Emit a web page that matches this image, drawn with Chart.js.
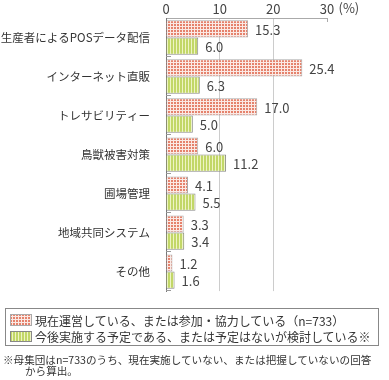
<!DOCTYPE html>
<html><head><meta charset="utf-8">
<script src="https://cdn.jsdelivr.net/npm/chart.js@4/dist/chart.umd.min.js"></script>
<style>
body{margin:0;background:#fff;font-family:"Noto Sans CJK JP",sans-serif;color:#333;}
#wrap{position:relative;width:389px;height:380px;}
#c{position:absolute;left:0;top:0;}
#legend{position:absolute;left:5px;top:308px;width:374px;height:38px;border:1px solid #888;box-sizing:border-box;}
.row{position:absolute;left:4px;height:14px;display:flex;align-items:center;font-size:12px;white-space:nowrap;color:#333;}
.row canvas{margin-right:3px;}
#note{position:absolute;left:3px;top:354px;font-size:10.6px;line-height:11px;color:#333;white-space:nowrap;}
</style></head>
<body><div id="wrap">
<canvas id="c" width="389" height="306"></canvas>
<div id="legend">
 <div class="row" style="top:4px"><canvas id="s1" width="22" height="12"></canvas><span id="l1"></span></div>
 <div class="row" style="top:20px"><canvas id="s2" width="22" height="11"></canvas><span id="l2"></span></div>
</div>
<div id="note"><div>※母集団はn=733のうち、現在実施していない、または把握していないの回答</div><div style="padding-left:22px">から算出。</div></div>
</div>
<script>
const categories = ["生産者によるPOSデータ配信","インターネット直販","トレサビリティー","鳥獣被害対策","圃場管理","地域共同システム","その他"];
const currentValues = [15.3, 25.4, 17.0, 6.0, 4.1, 3.3, 1.2];
const plannedValues = [6.0, 6.3, 5.0, 11.2, 5.5, 3.4, 1.6];
const seriesNames = ["現在運営している、または参加・協力している（n=733）","今後実施する予定である、または予定はないが検討している※"];
const xTicks = [0, 10, 20, 30];

function redPattern(ctx){
  const p=document.createElement('canvas');p.width=3;p.height=3;
  const g=p.getContext('2d');g.fillStyle='#fbe9e4';g.fillRect(0,0,3,3);
  g.fillStyle='#e5826c';g.fillRect(0,0,2,2);
  return ctx.createPattern(p,'repeat');
}
function greenPattern(ctx){
  const p=document.createElement('canvas');p.width=3;p.height=3;
  const g=p.getContext('2d');g.fillStyle='#eef4c4';g.fillRect(0,0,3,3);
  g.fillStyle='#c2d767';g.fillRect(0,0,2,3);
  return ctx.createPattern(p,'repeat');
}
const ctx=document.getElementById('c').getContext('2d');
const FONT='"Noto Sans CJK JP", sans-serif';

const decor={
  id:'decor',
  afterDatasetsDraw(chart){
    const c=chart.ctx, a=chart.chartArea, xs=chart.scales.x;
    c.save();
    c.font='13px '+FONT; c.fillStyle='#444'; c.textBaseline='middle'; c.textAlign='left';
    chart.data.datasets.forEach((ds,di)=>{
      chart.getDatasetMeta(di).data.forEach((el,i)=>{
        c.fillText(ds.data[i].toFixed(1), el.x+7, el.y+1);
      });
    });
    c.strokeStyle='#999'; c.lineWidth=1;
    const step=(a.bottom-a.top)/categories.length;
    for(let i=1;i<=categories.length;i++){
      const y=Math.round(a.top+step*i)-0.5;
      c.beginPath(); c.moveTo(a.left,y); c.lineTo(a.left+5,y); c.stroke();
    }
    const x30=Math.round(xs.getPixelForValue(30))+0.5;
    c.strokeStyle='#aaa';
    c.beginPath(); c.moveTo(x30,a.top); c.lineTo(x30,a.top+4); c.stroke();
    c.font='13px '+FONT; c.fillStyle='#444'; c.textBaseline='middle'; c.textAlign='left';
    c.fillText('(%)', x30+11, 8);
    c.restore();
  }
};

new Chart(ctx,{
  type:'bar',
  data:{labels:categories,datasets:[
    {label:seriesNames[0],data:currentValues,backgroundColor:redPattern(ctx),borderColor:'#aaa',borderWidth:1,categoryPercentage:0.88,barPercentage:1},
    {label:seriesNames[1],data:plannedValues,backgroundColor:greenPattern(ctx),borderColor:'#888',borderWidth:1,categoryPercentage:0.88,barPercentage:1}
  ]},
  options:{
    indexAxis:'y',responsive:false,animation:false,
    layout:{padding:{left:0,right:62,top:0,bottom:3}},
    plugins:{legend:{display:false},tooltip:{enabled:false}},
    scales:{
      x:{position:'top',min:0,max:30,
        afterBuildTicks(s){s.ticks=xTicks.map(v=>({value:v}));},
        afterFit(s){s.height=18;},
        ticks:{font:{size:13,family:FONT},color:'#444',padding:1},
        grid:{drawTicks:false,color:c=>(c.tick&&(c.tick.value===10||c.tick.value===20))?'#ccc':'transparent'},
        border:{color:'#aaa'}
      },
      y:{
        afterFit(s){s.width=166;},
        ticks:{font:{size:11.5,family:FONT},color:'#333',padding:8},
        grid:{display:false},
        border:{color:'#777'}
      }
    }
  },
  plugins:[decor]
});

const s1=document.getElementById('s1').getContext('2d');
s1.fillStyle=redPattern(s1);s1.fillRect(0,0,22,12);s1.strokeStyle='#aaa';s1.strokeRect(0.5,0.5,21,11);
const s2=document.getElementById('s2').getContext('2d');
s2.fillStyle=greenPattern(s2);s2.fillRect(0,0,22,11);s2.strokeStyle='#888';s2.strokeRect(0.5,0.5,21,10);
document.getElementById('l1').textContent=seriesNames[0];
document.getElementById('l2').textContent=seriesNames[1];
</script>
</body></html>
